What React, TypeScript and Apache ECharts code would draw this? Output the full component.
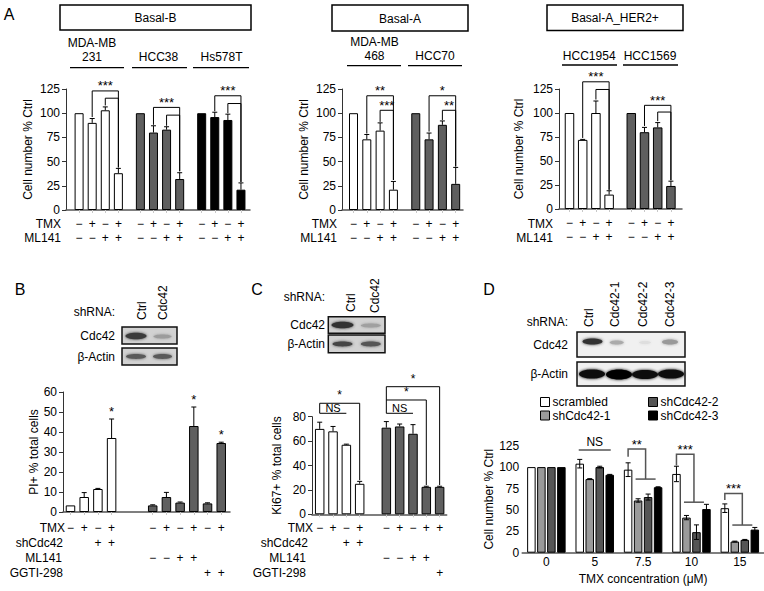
import React, { useEffect, useRef } from 'react';
import * as echarts from 'echarts';

const FONT = '"Liberation Sans", Arial, Helvetica, sans-serif';
const M = '\u2212';
const GRAY = '#5f5f5f';

// ---------------- Panel A ----------------
const A_HEADERS = ['Basal-B', 'Basal-A', 'Basal-A_HER2+'];
const A_TMX = [M, '+', M, '+'];
const A_ML141 = [M, M, '+', '+'];
const A_YNAME = 'Cell number % Ctrl';

const A1_CELL_LINES = ['MDA-MB\n231', 'HCC38', 'Hs578T'];
const A1_VALUES = [[100, 90, 103, 38], [100, 80, 83, 32], [100, 96, 93, 21]];
const A1_ERRORS = [[0, 4.5, 3.5, 5], [0, 7, 3, 6.5], [0, 5, 6, 7]];

const A2_CELL_LINES = ['MDA-MB\n468', 'HCC70'];
const A2_VALUES = [[100, 73, 82, 21], [100, 73, 88, 27]];
const A2_ERRORS = [[0, 5, 8, 8.5], [0, 6.5, 4, 17]];

const A3_CELL_LINES = ['HCC1954', 'HCC1569'];
const A3_VALUES = [[100, 72, 100, 15], [100, 80, 85, 24]];
const A3_ERRORS = [[0, 0.5, 12.5, 4], [0, 5, 5, 5]];

// ---------------- Panel B ----------------
const B_YNAME = 'PI+ % total cells';
const B_VALUES = [[3.3, 7.5, 11.5, 37], [3.3, 7.5, 4.7, 43, 4.3, 34.5]];
const B_ERRORS = [[0, 2.2, 0.3, 9.5], [0.3, 2.3, 0.3, 9.5, 0.3, 0.4]];
const B_ROW_NAMES = ['TMX', 'shCdc42', 'ML141', 'GGTI-298'];
const B_TMX = [M, '+', M, '+', M, '+', M, '+', M, '+'];
const B_SHCDC42 = ['', '', '+', '+', '', '', '', '', '', ''];
const B_ML141 = ['', '', '', '', M, M, '+', '+', '', ''];
const B_GGTI = ['', '', '', '', '', '', '', '', '+', '+'];

// ---------------- Panel C ----------------
const C_YNAME = 'Ki67+ % total cells';
const C_VALUES = [[70, 68, 57, 25], [71, 72, 66, 22.5, 22.5]];
const C_ERRORS = [[5.5, 4, 0.5, 2], [5, 2, 7.5, 0.5, 0.5]];
const C_ROW_NAMES = ['TMX', 'shCdc42', 'ML141', 'GGTI-298'];
const C_TMX = [M, '+', M, '+', M, '+', M, '+', '+'];
const C_SHCDC42 = ['', '', '+', '+', '', '', '', '', ''];
const C_ML141 = ['', '', '', '', M, M, '+', '+', ''];
const C_GGTI = ['', '', '', '', '', '', '', '', '+'];

// ---------------- Panel D ----------------
const D_SERIES = ['scrambled', 'shCdc42-1', 'shCdc42-2', 'shCdc42-3'];
const D_COLORS = ['#ffffff', '#9a9a9a', '#555555', '#000000'];
const D_CATEGORIES = ['0', '5', '7.5', '10', '15'];
const D_VALUES = [
  [100, 104, 97, 92, 52],
  [100, 86, 61, 41, 13],
  [100, 100, 65, 24, 15],
  [100, 91, 76.5, 51, 27],
];
const D_ERRORS = [
  [0, 5, 8, 9, 5],
  [0, 0.5, 2, 2.5, 0.5],
  [0, 1, 3.5, 8.5, 0.5],
  [0, 0.5, 0.5, 5.5, 2.5],
];
const D_XNAME = 'TMX concentration (\u03bcM)';
const D_YNAME = 'Cell number % Ctrl';
const D_LANES = ['Ctrl', 'Cdc42-1', 'Cdc42-2', 'Cdc42-3'];

// ---------------- significance annotations (data units) ----------------
type Ann = { path: number[][]; label?: string; at?: number[]; dy?: number; size?: number };

const A1_ANN: Ann[] = [
  { path: [[1, 96], [1, 123], [3, 123], [3, 44]], label: '***' },
  { path: [[2, 108], [2, 115.5], [3, 115.5], [3, 44]] },
  { path: [[5, 88], [5, 106], [7, 106], [7, 40]], label: '***' },
  { path: [[6, 87], [6, 98], [7, 98], [7, 40]] },
  { path: [[9, 102], [9, 118], [11, 118], [11, 29]], label: '***' },
  { path: [[10, 100], [10, 110], [11, 110], [11, 29]] },
];
const A2_ANN: Ann[] = [
  { path: [[1, 79], [1, 118], [3, 118], [3, 31]], label: '**' },
  { path: [[2, 91], [2, 103], [3, 103], [3, 31]], label: '***' },
  { path: [[5, 81], [5, 118], [7, 118], [7, 45]], label: '*' },
  { path: [[6, 93], [6, 103], [7, 103], [7, 45]], label: '**' },
];
const A3_ANN: Ann[] = [
  { path: [[1, 74], [1, 132.5], [3, 132.5], [3, 20]], label: '***' },
  { path: [[2, 114], [2, 124.5], [3, 124.5], [3, 20]] },
  { path: [[5, 86.5], [5, 108], [7, 108], [7, 30]], label: '***' },
  { path: [[6, 91.5], [6, 101], [7, 101], [7, 30]] },
];
const B_ANN: Ann[] = [
  { path: [], label: '*', at: [3, 48] },
  { path: [], label: '*', at: [7, 54] },
  { path: [], label: '*', at: [9, 36.5] },
];
const C_ANN: Ann[] = [
  { path: [[0, 82.8], [0, 91], [3, 91], [3, 28]], label: '*', dy: 8, size: 12 },
  { path: [[0, 82.8], [2, 82.8]], label: 'NS', dy: 5, size: 11 },
  { path: [[4, 82.8], [4, 104.6], [8, 104.6], [8, 24]], label: '*', dy: 8, size: 12 },
  { path: [[4, 93.7], [7, 93.7], [7, 24]], label: '*', dy: 8, size: 12 },
  { path: [[4, 82.8], [6, 82.8]], label: 'NS', dy: 5, size: 11 },
];
// [group, bar offset (in bar pitches), value]
const D_ANN: Ann[] = [
  { path: [[1, -1.6, 120], [1, 1.6, 120]], label: 'NS', dy: 8 },
  { path: [[2, -1.5, 112], [2, -1.5, 121], [2, 0.25, 121], [2, 0.25, 86]], label: '**' },
  { path: [[2, -0.75, 86], [2, 1.25, 86]] },
  { path: [[3, -1.5, 102], [3, -1.5, 115], [3, 0.25, 115], [3, 0.25, 59]], label: '***' },
  { path: [[3, -0.75, 59], [3, 1.25, 59]] },
  { path: [[4, -1.5, 61.5], [4, -1.5, 69.3], [4, 0.25, 69.3], [4, 0.25, 32.3]], label: '***' },
  { path: [[4, -0.75, 32.3], [4, 1.25, 32.3]] },
];

const D_PITCH = 10;

function annText(label: string, x: number, y: number, size?: number) {
  return {
    type: 'text',
    x,
    y,
    style: {
      text: label,
      fontSize: size ?? (label === 'NS' ? 12 : 13),
      fontFamily: FONT,
      fill: '#000',
      align: 'center',
      verticalAlign: 'middle',
      textAlign: 'center',
      textVerticalAlign: 'middle',
    },
  };
}

function annRender(anns: Ann[], toPx: (api: any, p: number[]) => number[], stroke: string, lw: number) {
  return (params: any, api: any) => {
    const a = anns[params.dataIndex];
    const pts = a.path.map((p) => toPx(api, p));
    const children: any[] = [];
    if (pts.length > 1) {
      children.push({
        type: 'polyline',
        shape: { points: pts },
        style: { stroke, lineWidth: lw, fill: null },
      });
    }
    if (a.label) {
      let lx = 0;
      let ly = 0;
      if (a.at) {
        const c = toPx(api, a.at);
        lx = c[0];
        ly = c[1];
      } else {
        let best = Infinity;
        for (let i = 0; i < pts.length - 1; i++) {
          if (Math.abs(pts[i][1] - pts[i + 1][1]) < 0.5 && pts[i][1] < best) {
            best = pts[i][1];
            lx = (pts[i][0] + pts[i + 1][0]) / 2;
            ly = pts[i][1];
          }
        }
      }
      children.push(annText(a.label, lx, ly - (a.dy ?? 5), a.size));
    }
    return { type: 'group', children };
  };
}

interface PanelCfg {
  idx: number;
  grid: { left: number; top: number; width: number; height: number };
  xRange: [number, number];
  groupStarts: number[];
  values: number[][];
  errors: number[][];
  colors: string[];
  barWidth: number;
  yMax: number;
  yStep: number;
  yName: string;
  yNameGap: number;
  rows: string[][];
  rowLineHeight: number;
  rowMargin: number;
  ann: Ann[];
}

function buildPanel(c: PanelCfg) {
  const pos: number[] = [];
  const vals: number[] = [];
  const errs: number[] = [];
  const cols: string[] = [];
  c.values.forEach((g, gi) =>
    g.forEach((v, j) => {
      pos.push(c.groupStarts[gi] + j);
      vals.push(v);
      errs.push(c.errors[gi][j]);
      cols.push(c.colors[gi]);
    })
  );
  const grid = { ...c.grid, containLabel: false };
  const xAxis = {
    gridIndex: c.idx,
    type: 'value',
    min: c.xRange[0],
    max: c.xRange[1],
    axisLine: { show: true, onZero: false, lineStyle: { color: '#555', width: 1.5 } },
    axisTick: { show: true, customValues: pos, length: 3, lineStyle: { color: '#c8c8c8', width: 1 } },
    axisLabel: {
      show: true,
      customValues: pos,
      margin: c.rowMargin,
      lineHeight: c.rowLineHeight,
      fontSize: 12,
      color: '#000',
      fontFamily: FONT,
      formatter: (v: any) => {
        const k = pos.findIndex((p) => Math.abs(p - Number(v)) < 1e-6);
        return c.rows.map((r) => (k >= 0 && r[k] ? r[k] : ' ')).join('\n');
      },
    },
    splitLine: { show: false },
  };
  const yAxis = {
    gridIndex: c.idx,
    type: 'value',
    min: 0,
    max: c.yMax,
    interval: c.yStep,
    axisLine: { show: true, onZero: false, lineStyle: { color: '#333', width: 1 } },
    axisTick: { show: true, length: 4, lineStyle: { color: '#333' } },
    axisLabel: { fontSize: 12, color: '#000', margin: 6, fontFamily: FONT },
    splitLine: { show: false },
    name: c.yName,
    nameLocation: 'middle',
    nameGap: c.yNameGap,
    nameRotate: 90,
    nameTextStyle: { fontSize: 12, color: '#000', fontFamily: FONT },
  };
  const series: any[] = [
    {
      type: 'bar',
      xAxisIndex: c.idx,
      yAxisIndex: c.idx,
      barWidth: c.barWidth,
      silent: true,
      data: pos.map((p, k) => ({ value: [p, vals[k]], itemStyle: { color: cols[k] } })),
      itemStyle: { borderColor: '#000', borderWidth: 1 },
    },
    {
      type: 'custom',
      xAxisIndex: c.idx,
      yAxisIndex: c.idx,
      z: 3,
      silent: true,
      data: pos.map((p, k) => [p, vals[k], errs[k]]).filter((d) => d[2] > 0),
      renderItem: (params: any, api: any) => {
        const x = api.value(0);
        const y = api.value(1);
        const e = api.value(2);
        const p0 = api.coord([x, y]);
        const p1 = api.coord([x, y + e]);
        return {
          type: 'group',
          children: [
            { type: 'line', shape: { x1: p0[0], y1: p0[1], x2: p1[0], y2: p1[1] }, style: { stroke: '#000', lineWidth: 1 } },
            { type: 'line', shape: { x1: p1[0] - 2.5, y1: p1[1], x2: p1[0] + 2.5, y2: p1[1] }, style: { stroke: '#000', lineWidth: 1 } },
          ],
        };
      },
    },
    {
      type: 'custom',
      xAxisIndex: c.idx,
      yAxisIndex: c.idx,
      z: 4,
      silent: true,
      data: c.ann.map((a) => {
        const p = a.at || a.path[0];
        return [pos[p[0]], p[1]];
      }),
      renderItem: annRender(c.ann, (api, p) => api.coord([pos[p[0]], p[1]]), '#000', 1),
    },
  ];
  return { grid, xAxis, yAxis, series };
}

function repeatRows(groups: number, row: string[]) {
  const out: string[] = [];
  for (let g = 0; g < groups; g++) out.push(...row);
  return out;
}

// ---------- graphic helpers ----------
function T(x: number, y: number, text: string, o: any = {}) {
  const align = o.align || 'center';
  const valign = o.valign || 'middle';
  return {
    type: 'text',
    x,
    y,
    rotation: o.rotation || 0,
    silent: true,
    z: 10,
    style: {
      text,
      fill: '#000',
      fontSize: o.size || 12,
      fontFamily: FONT,
      lineHeight: o.lh,
      align,
      verticalAlign: valign,
      textAlign: align,
      textVerticalAlign: valign,
    },
  };
}
function L(x1: number, y1: number, x2: number, y2: number, w = 1.2) {
  return { type: 'line', silent: true, z: 10, shape: { x1, y1, x2, y2 }, style: { stroke: '#000', lineWidth: w } };
}
function R(x: number, y: number, w: number, h: number, fill: string, stroke: string | null, lw = 1.5, z2 = 0) {
  return { type: 'rect', silent: true, z: 10, z2, shape: { x, y, width: w, height: h }, style: { fill, stroke, lineWidth: lw } };
}
function E(cx: number, cy: number, rx: number, ry: number, fill: string) {
  return {
    type: 'ellipse',
    silent: true,
    z: 10,
    z2: 1,
    shape: { cx, cy, rx, ry },
    style: { fill, shadowBlur: 3, shadowColor: fill },
  };
}
function blot(x: number, y: number, w: number, h: number, bg: string, bands: number[][], colors: string[]) {
  const out: any[] = [R(x, y, w, h, bg, null, 0, 0)];
  bands.forEach((b, i) => out.push(E(b[0], b[1], b[2], b[3], colors[i])));
  out.push(R(x, y, w, h, 'none', '#111', 1.5, 2));
  return out;
}

function buildOption() {
  const A_STARTS3 = [0, 4.68, 9.36];
  const A_STARTS2 = [0, 4.68];

  const p1 = buildPanel({
    idx: 0,
    grid: { left: 66, top: 89, width: 184, height: 121 },
    xRange: [-1, 13.05],
    groupStarts: A_STARTS3,
    values: A1_VALUES,
    errors: A1_ERRORS,
    colors: ['#ffffff', GRAY, '#000000'],
    barWidth: 9,
    yMax: 125,
    yStep: 25,
    yName: A_YNAME,
    yNameGap: 32,
    rows: [repeatRows(3, A_TMX), repeatRows(3, A_ML141)],
    rowLineHeight: 14,
    rowMargin: 7,
    ann: A1_ANN,
  });
  const p2 = buildPanel({
    idx: 1,
    grid: { left: 342, top: 89, width: 121, height: 121 },
    xRange: [-0.865, 8.23],
    groupStarts: A_STARTS2,
    values: A2_VALUES,
    errors: A2_ERRORS,
    colors: ['#ffffff', GRAY],
    barWidth: 9,
    yMax: 125,
    yStep: 25,
    yName: A_YNAME,
    yNameGap: 32,
    rows: [repeatRows(2, A_TMX), repeatRows(2, A_ML141)],
    rowLineHeight: 14,
    rowMargin: 7,
    ann: A2_ANN,
  });
  const p3 = buildPanel({
    idx: 2,
    grid: { left: 559, top: 89, width: 123, height: 120 },
    xRange: [-0.795, 8.52],
    groupStarts: A_STARTS2,
    values: A3_VALUES,
    errors: A3_ERRORS,
    colors: ['#ffffff', GRAY],
    barWidth: 9.5,
    yMax: 125,
    yStep: 25,
    yName: A_YNAME,
    yNameGap: 34,
    rows: [repeatRows(2, A_TMX), repeatRows(2, A_ML141)],
    rowLineHeight: 14,
    rowMargin: 7,
    ann: A3_ANN,
  });
  const pB = buildPanel({
    idx: 3,
    grid: { left: 63, top: 392, width: 167, height: 120 },
    xRange: [-0.547, 11.64],
    groupStarts: [0, 6],
    values: B_VALUES,
    errors: B_ERRORS,
    colors: ['#ffffff', GRAY],
    barWidth: 9.5,
    yMax: 60,
    yStep: 10,
    yName: B_YNAME,
    yNameGap: 20,
    rows: [B_TMX, B_SHCDC42, B_ML141, B_GGTI],
    rowLineHeight: 15,
    rowMargin: 8.5,
    ann: B_ANN,
  });
  const pC = buildPanel({
    idx: 4,
    grid: { left: 312, top: 416.7, width: 134.7, height: 97.6 },
    xRange: [-0.578, 9.53],
    groupStarts: [0, 5],
    values: C_VALUES,
    errors: C_ERRORS,
    colors: ['#ffffff', GRAY],
    barWidth: 9.5,
    yMax: 80,
    yStep: 20,
    yName: C_YNAME,
    yNameGap: 29,
    rows: [C_TMX, C_SHCDC42, C_ML141, C_GGTI],
    rowLineHeight: 15,
    rowMargin: 6.5,
    ann: C_ANN,
  });

  // ----- Panel D -----
  const dGrid = { left: 522.2, top: 445.7, width: 243, height: 107 };
  const dX = {
    gridIndex: 5,
    type: 'category',
    data: D_CATEGORIES,
    axisLine: { show: true, lineStyle: { color: '#555', width: 1.5 } },
    axisTick: { show: false },
    axisLabel: { fontSize: 12, color: '#000', margin: 3, fontFamily: FONT },
    name: D_XNAME,
    nameLocation: 'middle',
    nameGap: 20,
    nameTextStyle: { fontSize: 12, color: '#000', fontFamily: FONT },
  };
  const dY = {
    gridIndex: 5,
    type: 'value',
    min: 0,
    max: 125,
    interval: 25,
    axisLine: { show: false },
    axisTick: { show: false },
    axisLabel: { fontSize: 12, color: '#000', margin: 3, fontFamily: FONT },
    splitLine: { show: false },
    name: D_YNAME,
    nameLocation: 'middle',
    nameGap: 27,
    nameRotate: 90,
    nameTextStyle: { fontSize: 12, color: '#000', fontFamily: FONT },
  };
  const dSeries: any[] = D_SERIES.map((name, s) => ({
    type: 'bar',
    name,
    xAxisIndex: 5,
    yAxisIndex: 5,
    barWidth: 8.5,
    barGap: '17.6%',
    silent: true,
    data: D_VALUES[s],
    itemStyle: { color: D_COLORS[s], borderColor: '#000', borderWidth: 1 },
  }));
  const dErr: number[][] = [];
  D_VALUES.forEach((row, s) => row.forEach((v, g) => { if (D_ERRORS[s][g] > 0) dErr.push([g, v, D_ERRORS[s][g], s]); }));
  dSeries.push({
    type: 'custom',
    xAxisIndex: 5,
    yAxisIndex: 5,
    z: 3,
    silent: true,
    data: dErr,
    renderItem: (params: any, api: any) => {
      const g = api.value(0);
      const v = api.value(1);
      const e = api.value(2);
      const s = api.value(3);
      const off = (s - 1.5) * D_PITCH;
      const top = api.coord([g, v + e]);
      const bot = api.coord([g, v - e]);
      const x = top[0] + off;
      const st = { stroke: '#000', lineWidth: 1 };
      return {
        type: 'group',
        children: [
          { type: 'line', shape: { x1: x, y1: top[1], x2: x, y2: bot[1] }, style: st },
          { type: 'line', shape: { x1: x - 2.5, y1: top[1], x2: x + 2.5, y2: top[1] }, style: st },
          { type: 'line', shape: { x1: x - 2.5, y1: bot[1], x2: x + 2.5, y2: bot[1] }, style: st },
        ],
      };
    },
  });
  dSeries.push({
    type: 'custom',
    xAxisIndex: 5,
    yAxisIndex: 5,
    z: 4,
    silent: true,
    data: D_ANN.map((a) => [a.path[0][0], a.path[0][2]]),
    renderItem: annRender(
      D_ANN,
      (api, p) => {
        const c = api.coord([p[0], p[2]]);
        return [c[0] + p[1] * D_PITCH, c[1]];
      },
      '#555',
      1.5
    ),
  });

  // ----- graphic: headers, labels, blots -----
  const g: any[] = [];
  // panel letters
  g.push(T(9, 14, 'A', { size: 16 }));
  g.push(T(20, 289, 'B', { size: 16 }));
  g.push(T(257, 289, 'C', { size: 16 }));
  g.push(T(489, 289, 'D', { size: 16 }));

  // A header boxes
  const boxes = [[60, 5, 191, 25], [332, 5, 136, 26], [547, 5, 136, 25.5]];
  boxes.forEach((b, i) => {
    g.push(R(b[0], b[1], b[2], b[3], '#fff', '#000', 1.5, 0));
    g.push(T(b[0] + b[2] / 2, b[1] + b[3] / 2 + 0.5, A_HEADERS[i]));
  });
  // cell line labels & underlines
  const lineLabels = [
    { names: A1_CELL_LINES, cx: [92, 158.5, 221.5], y: 57, ul: [[70, 124], [132, 187], [193, 249]], uy: 67.7 },
    { names: A2_CELL_LINES, cx: [374.5, 435], y: 56, ul: [[347, 401], [408, 462]], uy: 65.7 },
    { names: A3_CELL_LINES, cx: [589.2, 650], y: 56, ul: [[562, 617], [623, 678]], uy: 65 },
  ];
  lineLabels.forEach((ll) => {
    ll.names.forEach((n, i) => {
      const two = n.indexOf('\n') >= 0;
      g.push(T(ll.cx[i], two ? ll.y - 7 : ll.y, n, { lh: 14 }));
      g.push(L(ll.ul[i][0], ll.uy, ll.ul[i][1], ll.uy, 1.3));
    });
  });
  // A row labels
  [61, 337, 553].forEach((x) => {
    g.push(T(x, 224, 'TMX', { align: 'right' }));
    g.push(T(x, 238, 'ML141', { align: 'right' }));
  });
  // B row labels
  const bRowX = [65, 63, 62, 63];
  B_ROW_NAMES.forEach((n, i) => g.push(T(bRowX[i], 528 + i * 15, n, { align: 'right' })));
  const cRowX = [313, 308, 306, 306];
  C_ROW_NAMES.forEach((n, i) => g.push(T(cRowX[i], 528.3 + i * 15, n, { align: 'right' })));

  // B blot
  g.push(T(115, 312, 'shRNA:', { align: 'right' }));
  g.push(T(142, 320, 'Ctrl', { align: 'left', rotation: Math.PI / 2 }));
  g.push(T(163, 320, 'Cdc42', { align: 'left', rotation: Math.PI / 2 }));
  g.push(T(115, 335.5, 'Cdc42', { align: 'right' }));
  g.push(T(115, 356.5, '\u03b2-Actin', { align: 'right' }));
  g.push(...blot(122, 327, 55, 17, '#d2d2d2', [[136, 336, 10.5, 3.2], [162.5, 336.5, 9, 2]], ['#3a3a3a', '#9c9c9c']));
  g.push(...blot(122, 348, 55, 17, '#d2d2d2', [[136, 356.5, 10, 2.4], [162.5, 356.5, 9.5, 2.4]], ['#5a5a5a', '#5a5a5a']));

  // C blot
  g.push(T(325, 297, 'shRNA:', { align: 'right' }));
  g.push(T(350.5, 312, 'Ctrl', { align: 'left', rotation: Math.PI / 2 }));
  g.push(T(375, 313, 'Cdc42', { align: 'left', rotation: Math.PI / 2 }));
  g.push(T(325, 325, 'Cdc42', { align: 'right' }));
  g.push(T(325, 344, '\u03b2-Actin', { align: 'right' }));
  g.push(...blot(328.3, 316.7, 56.7, 16.6, '#d2d2d2', [[342.5, 325, 11, 3.2], [370.8, 325.5, 10, 2]], ['#333', '#a0a0a0']));
  g.push(...blot(328.3, 335, 56.7, 17.7, '#d2d2d2', [[342.5, 344, 10, 2.4], [370.8, 344, 10, 2.4]], ['#444', '#555']));

  // D blot
  g.push(T(568, 322, 'shRNA:', { align: 'right' }));
  const dLaneX = [589, 615, 643, 670];
  D_LANES.forEach((n, i) => g.push(T(dLaneX[i], 327, n, { align: 'left', rotation: Math.PI / 2 })));
  g.push(T(568, 344.5, 'Cdc42', { align: 'right' }));
  g.push(T(568, 374, '\u03b2-Actin', { align: 'right' }));
  g.push(...blot(577, 332, 108, 25, '#f0f0f0', [[592.5, 341.5, 10, 3], [616.7, 342.5, 7, 2], [645, 342.5, 6, 1.5], [670, 342, 8, 2.5]], ['#333', '#aaa', '#dedede', '#999']));
  g.push(...blot(577, 362, 108, 24, '#f0f0f0', [[592, 374, 13, 4.5], [619, 374.5, 13, 5], [645, 374.5, 13, 4.5], [671, 374, 13, 4.5]], ['#111', '#000', '#111', '#111']));

  const legendBase = {
    orient: 'vertical',
    top: 396,
    itemWidth: 9,
    itemHeight: 9,
    itemGap: 1.5,
    selectedMode: false,
    icon: 'rect',
    padding: 0,
    itemStyle: { borderColor: '#000', borderWidth: 1 },
    textStyle: { fontSize: 12, color: '#000', fontFamily: FONT, padding: [0, 0, 0, -2] },
  };

  const panels = [p1, p2, p3, pB, pC];
  return {
    animation: false,
    backgroundColor: '#ffffff',
    textStyle: { fontFamily: FONT },
    grid: [...panels.map((p) => p.grid), { ...dGrid, containLabel: false }],
    xAxis: [...panels.map((p) => p.xAxis), dX],
    yAxis: [...panels.map((p) => p.yAxis), dY],
    legend: [
      { ...legendBase, id: 'lg1', data: [D_SERIES[0], D_SERIES[1]], left: 540 },
      { ...legendBase, id: 'lg2', data: [D_SERIES[2], D_SERIES[3]], left: 648 },
    ],
    series: [...panels.flatMap((p) => p.series), ...dSeries],
    graphic: { elements: g },
  };
}

export default function App() {
  const ref = useRef<HTMLDivElement>(null);
  useEffect(() => {
    if (!ref.current) return;
    const chart = echarts.init(ref.current, undefined, { renderer: 'svg' });
    chart.setOption(buildOption() as any);
    return () => chart.dispose();
  }, []);
  return (
    <div
      ref={ref}
      style={{ position: 'absolute', left: 0, top: 0, width: 764, height: 591, background: '#fff' }}
    />
  );
}
